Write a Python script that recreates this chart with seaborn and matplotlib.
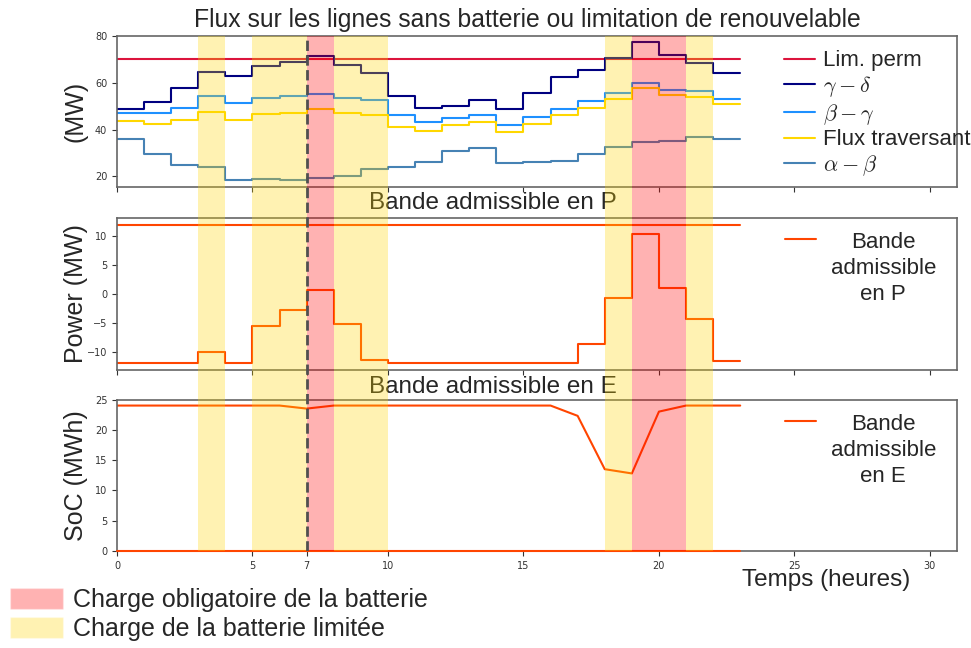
import matplotlib
matplotlib.use('Agg')
import matplotlib.pyplot as plt
from matplotlib.patches import Patch
import seaborn as sns

# Data
hours = list(range(24))
lim_perm = [70] * 24
flux_gd = [49.0, 51.9, 57.6, 64.7, 63.0, 67.3, 69.1, 71.6, 67.7, 64.0, 54.3, 49.3,
           50.0, 52.6, 49.0, 55.6, 62.7, 65.4, 70.6, 77.3, 72.0, 68.4, 64.1, 64.1]
flux_bg = [47.0, 47.3, 49.1, 54.2, 51.3, 53.7, 54.3, 55.3, 53.4, 52.6, 46.4, 43.3,
           45.1, 46.1, 42.0, 45.3, 48.9, 52.1, 55.7, 59.9, 57.1, 56.3, 53.0, 53.0]
flux_trav = [43.9, 42.6, 44.0, 47.6, 44.3, 46.7, 47.3, 48.7, 47.3, 46.3, 41.1, 39.4,
             42.0, 43.3, 39.0, 42.3, 46.1, 49.1, 53.3, 57.7, 54.9, 54.0, 51.0, 51.0]
flux_ab = [36.1, 29.7, 24.9, 24.1, 18.7, 18.9, 18.3, 19.3, 20.1, 23.1, 24.0, 26.0,
           30.8, 32.1, 25.9, 26.3, 26.4, 29.6, 32.7, 34.7, 35.3, 36.9, 36.1, 36.1]

p_max = [12] * 24
bande_p = [-12, -12, -12, -10.0, -12, -5.5, -2.8, 0.75, -5.25, -11.4, -12, -12,
           -12, -12, -12, -12, -12, -8.75, -0.7, 10.3, 1.1, -4.4, -11.7, -11.7]

soc_min = [0] * 24
bande_e = [24, 24, 24, 24, 24, 24, 24, 23.5, 24, 24, 24, 24,
           24, 24, 24, 24, 24, 22.3, 13.5, 12.8, 23.0, 24, 24, 24]

# shaded periods (start, end) in hours
charge_obligatoire = [(7, 8), (19, 21)]
charge_limitee = [(3, 4), (5, 7), (8, 10), (18, 19), (21, 22)]
t_focus = 7
xticks = [0, 5, 7, 10, 15, 20, 25, 30]

sns.set_style('ticks')
plt.rcParams['font.family'] = ['DejaVu Sans']
plt.rcParams['mathtext.fontset'] = 'cm'
plt.rcParams['axes.edgecolor'] = '#666666'
plt.rcParams['axes.linewidth'] = 1.2
plt.rcParams['xtick.color'] = '#333333'
plt.rcParams['ytick.color'] = '#333333'

TXT = 'Liberation Sans'

fig = plt.figure(figsize=(9.71, 6.48), dpi=100)
L, W = 117 / 971, 840 / 971
ax1 = fig.add_axes([L, 1 - 187 / 648, W, 151 / 648])
ax2 = fig.add_axes([L, 1 - 370 / 648, W, 152.3 / 648])
ax3 = fig.add_axes([L, 1 - 551 / 648, W, 151.5 / 648])

# Top panel: line flows
sns.lineplot(x=hours, y=lim_perm, ax=ax1, color='crimson', lw=1.5, label='Lim. perm')
sns.lineplot(x=hours, y=flux_gd, ax=ax1, color='navy', lw=1.5, drawstyle='steps-post',
             label=r'$\gamma-\delta$')
sns.lineplot(x=hours, y=flux_bg, ax=ax1, color='dodgerblue', lw=1.5, drawstyle='steps-post',
             label=r'$\beta-\gamma$')
sns.lineplot(x=hours, y=flux_trav, ax=ax1, color='gold', lw=1.5, drawstyle='steps-post',
             label='Flux traversant')
sns.lineplot(x=hours, y=flux_ab, ax=ax1, color='steelblue', lw=1.5, drawstyle='steps-post',
             label=r'$\alpha-\beta$')
ax1.set_ylim(15.5, 80)
ax1.set_yticks([20, 40, 60, 80])
ax1.set_ylabel('(MW)', fontsize=18, family=TXT)
ax1.set_title('Flux sur les lignes sans batterie ou limitation de renouvelable',
              fontsize=17.8, family=TXT, x=0.489, pad=6.5)
ax1.legend(loc='upper left', bbox_to_anchor=(0.794, 0.905), frameon=False,
           prop={'family': TXT, 'size': 16}, handlelength=1.4, handletextpad=0.35,
           labelspacing=0.12, borderpad=0, borderaxespad=0)

# Middle panel: power band
sns.lineplot(x=hours, y=p_max, ax=ax2, color='orangered', lw=1.5)
sns.lineplot(x=hours, y=bande_p, ax=ax2, color='orangered', lw=1.5, drawstyle='steps-post',
             label='Bande\nadmissible\nen P')
ax2.set_ylim(-13.2, 13.2)
ax2.set_yticks([-10, -5, 0, 5, 10])
ax2.set_ylabel('Power (MW)', fontsize=18, family=TXT)
ax2.set_title('Bande admissible en P', fontsize=17.5, family=TXT, x=0.448, pad=6)
leg2 = ax2.legend(loc='upper left', bbox_to_anchor=(0.795, 0.905), frameon=False,
                  prop={'family': TXT, 'size': 16}, handlelength=1.4, handletextpad=0.66,
                  borderpad=0, borderaxespad=0)

# Bottom panel: energy band
sns.lineplot(x=hours, y=soc_min, ax=ax3, color='orangered', lw=1.5, clip_on=False, zorder=3)
sns.lineplot(x=hours, y=bande_e, ax=ax3, color='orangered', lw=1.5,
             label='Bande\nadmissible\nen E')
ax3.set_ylim(0, 25)
ax3.set_yticks([0, 5, 10, 15, 20, 25])
ax3.set_ylabel('SoC (MWh)', fontsize=18, family=TXT)
ax3.set_title('Bande admissible en E', fontsize=17.5, family=TXT, x=0.448, pad=5)
leg3 = ax3.legend(loc='upper left', bbox_to_anchor=(0.795, 0.905), frameon=False,
                  prop={'family': TXT, 'size': 16}, handlelength=1.4, handletextpad=0.66,
                  borderpad=0, borderaxespad=0)
for leg in (leg2, leg3):
    for t in leg.get_texts():
        t.set_multialignment('center')
        t.set_linespacing(1.32)
    # put the handle level with the first text line
    for ln in leg.get_lines():
        ln.set_ydata([y + 21.5 for y in ln.get_ydata()])

for ax in (ax1, ax2, ax3):
    ax.set_xlim(0, 31)
    ax.set_xticks(xticks)
    ax.set_xlabel('')
    ax.tick_params(labelsize=7, length=3.5)
    ax.yaxis.set_label_coords(-0.035, 0.5)
ax1.tick_params(labelbottom=False)
ax2.tick_params(labelbottom=False)

# Overlay for the shaded periods, across all panels
ov = fig.add_axes([L, 1 - 551 / 648, W, (551 - 36) / 648], zorder=10)
ov.patch.set_alpha(0)
ov.set_xlim(0, 31)
ov.set_ylim(0, 1)
ov.axis('off')
for a, b in charge_limitee:
    ov.axvspan(a, b, color='gold', alpha=0.3, lw=0)
for a, b in charge_obligatoire:
    ov.axvspan(a, b, color='red', alpha=0.3, lw=0)
ov.axvline(t_focus, color='#505050', lw=2, ls='--')

fig.text(741.7 / 971, 1 - 586 / 648, 'Temps (heures)', fontsize=17.5, family=TXT,
         va='baseline')

handles = [Patch(facecolor='red', alpha=0.3, label='Charge obligatoire de la batterie'),
           Patch(facecolor='gold', alpha=0.3, label='Charge de la batterie limitée')]
fig.legend(handles=handles, loc='upper left', bbox_to_anchor=(10 / 971, 1 - 588 / 648),
           frameon=False, prop={'family': TXT, 'size': 18}, handlelength=2.1,
           handleheight=0.88, handletextpad=0.4, labelspacing=0.2, borderpad=0,
           borderaxespad=0)

fig.savefig('out.png', dpi=100)
